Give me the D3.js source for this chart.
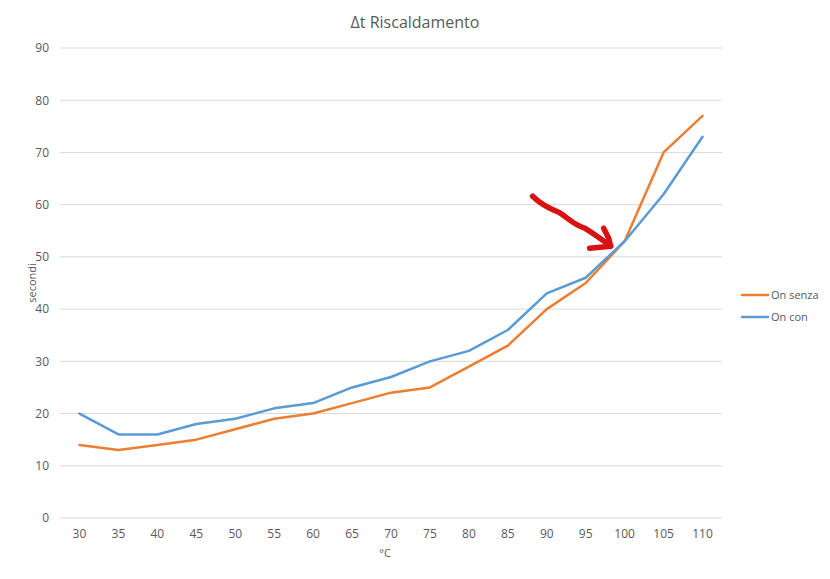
<!DOCTYPE html>
<html><head><meta charset="utf-8">
<script src="https://cdn.jsdelivr.net/npm/d3@7"></script>
<style>
body{margin:0;background:#fff;}
text{font-family:"Open Sans","Liberation Sans",sans-serif;fill:#595959;}
</style></head>
<body><svg id="c" width="830" height="579"></svg>
<script>
const categories = ["30","35","40","45","50","55","60","65","70","75","80","85","90","95","100","105","110"];
const onSenza = [14,13,14,15,17,19,20,22,24,25,29,33,40,45,53,70,77];
const onCon   = [20,16,16,18,19,21,22,25,27,30,32,36,43,46,53,62,73];
const yTicks = [0,10,20,30,40,50,60,70,80,90];
const seriesNames = ["On senza","On con"];
const colors = ["#ED7D31","#5B9BD5"];

const svg = d3.select("#c");
const W = 830, H = 579;
const m = {l:60, r:108, t:48, b:61};
const x = d3.scaleBand().domain(categories).range([m.l, W - m.r]);
const y = d3.scaleLinear().domain([0,90]).range([H - m.b, m.t]);

// gridlines
svg.append("g").selectAll("line").data(yTicks).join("line")
  .attr("x1", m.l).attr("x2", W - m.r)
  .attr("y1", d => y(d)).attr("y2", d => y(d))
  .attr("stroke", "#d9d9d9").attr("stroke-width", 1);

// y axis labels
const yAxis = d3.axisLeft(y).tickValues(yTicks).tickSize(0).tickPadding(11);
svg.append("g").attr("transform", `translate(${m.l},0)`).call(yAxis)
  .call(g => g.select(".domain").remove())
  .selectAll("text").style("font-size","12px").attr("fill","#595959");

// x axis labels
const xAxis = d3.axisBottom(x).tickSize(0).tickPadding(11);
svg.append("g").attr("transform", `translate(0,${y(0)})`).call(xAxis)
  .call(g => g.select(".domain").remove())
  .selectAll("text").style("font-size","12px").attr("fill","#595959");

// lines
const line = d3.line().x((d,i) => x(categories[i]) + x.bandwidth()/2).y(d => y(d));
[onSenza, onCon].forEach((s,k) => {
  svg.append("path").datum(s).attr("d", line)
    .attr("fill","none").attr("stroke", colors[k]).attr("stroke-width", 2.5)
    .attr("stroke-linejoin","round").attr("stroke-linecap","round");
});

// title
svg.append("text").attr("x", 415).attr("y", 28).attr("text-anchor","middle")
  .style("font-size","16px").text("Δt Riscaldamento");

// axis titles
svg.append("text").attr("x", (m.l + W - m.r)/2 - 6).attr("y", 557).attr("text-anchor","middle")
  .style("font-size","11px").text("°C");
svg.append("text").attr("transform", `translate(36,${(m.t + H - m.b)/2}) rotate(-90)`)
  .attr("text-anchor","middle").style("font-size","11px").text("secondi");

// legend
seriesNames.forEach((n,k) => {
  const ly = 295 + k*22;
  svg.append("line").attr("x1", 742).attr("x2", 768).attr("y1", ly).attr("y2", ly)
    .attr("stroke", colors[k]).attr("stroke-width", 2.5).attr("stroke-linecap","round");
  svg.append("text").attr("x", 771).attr("y", ly + 4).style("font-size","11px").text(n);
});

// hand-drawn red arrow annotation, positioned relative to the crossing point
const px = x("100") + x.bandwidth()/2, py = y(53);
const ox = px - 14, oy = py + 5; // arrow tip
const arrow = svg.append("g").attr("fill","none").attr("stroke","#d81212")
  .attr("stroke-width",5.5).attr("stroke-linecap","round").attr("stroke-linejoin","round");
arrow.append("path").attr("d",
  `M${ox-78},${oy-50} C${ox-70},${oy-42} ${ox-62},${oy-38} ${ox-52},${oy-34} C${ox-42},${oy-28} ${ox-38},${oy-22} ${ox-26},${oy-18} C${ox-16},${oy-12} ${ox-8},${oy-6} ${ox},${oy}`);
arrow.append("path").attr("d", `M${ox-7},${oy-18} L${ox-2},${oy-8} L${ox},${oy} L${ox-21},${oy+2}`);
</script>
</body></html>
